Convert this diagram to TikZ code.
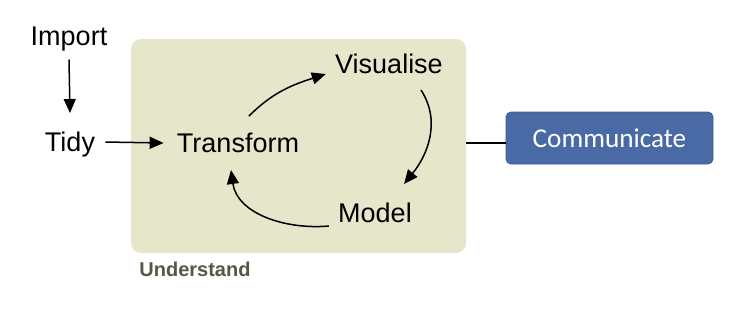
\documentclass[tikz,border=0pt]{standalone}
\usepackage{fontspec}
\setmainfont{Liberation Sans}
\newfontfamily\calib{Carlito}
\usetikzlibrary{positioning,arrows.meta,calc}
\definecolor{understandbg}{HTML}{E6E6CB}
\definecolor{understandtx}{HTML}{5A5546}
\definecolor{commfill}{HTML}{4A6AA5}
\definecolor{commline}{HTML}{3F5C93}
\begin{document}
\begin{tikzpicture}[
x=0.5pt,y=0.5pt,
lbl/.style={inner sep=0pt,text height=9.6pt,text depth=0pt,font=\fontsize{13.5}{15}\selectfont},
ubox/.style={fill=understandbg,rounded corners=5pt,minimum width=167.5pt,minimum height=107pt,inner sep=0pt},
cbox/.style={draw=commline,fill=commfill,rounded corners=2.5pt,minimum width=103.5pt,minimum height=26pt,
  text=white,font=\calib\fontsize{13.6}{15}\selectfont},
arr/.style={-{Triangle[length=7pt,width=6pt]},line width=0.75pt},
>=Stealth]
\useasboundingbox (0,0) rectangle (756,-329);
\node[ubox] (und) at (298.5,-146) {};
\node[inner sep=0pt,anchor=base west,text=understandtx,font=\bfseries\fontsize{10}{12}\selectfont] (undlbl) at (139,-276) {Understand};
\node[lbl] (imp) at (69,-35.5) {Import};
\node[lbl] (tidy) at (70,-142) {Tidy};
\node[lbl] (trans) at (238,-143) {Transform};
\node[lbl] (vis) at (389,-64) {Visualise};
\node[lbl] (mod) at (375,-213) {Model};
\node[cbox] (com) at (609.5,-138) {Communicate};
\draw[arr] ($(imp.south)+(0,-14)$) -- ($(tidy.north)+(0,19)$);
\draw[arr] ($(tidy.east)+(10,0)$) -- ($(trans.west)+(-13,0)$);
\draw[arr] ($(trans.north)+(11,17)$) to[out=45,in=198] ($(vis.west)+(-9,-10)$);
\draw[arr] ($(vis.south)+(32,-16)$) to[out=-57,in=51] ($(mod.north)+(29,19)$);
\draw[arr] ($(mod.west)+(-9,-13)$) to[out=185,in=-82] ($(trans.south)+(-7,-17)$);
\draw[line width=0.75pt] (und.east |- trans) -- (com.west |- trans);
\end{tikzpicture}
\end{document}
